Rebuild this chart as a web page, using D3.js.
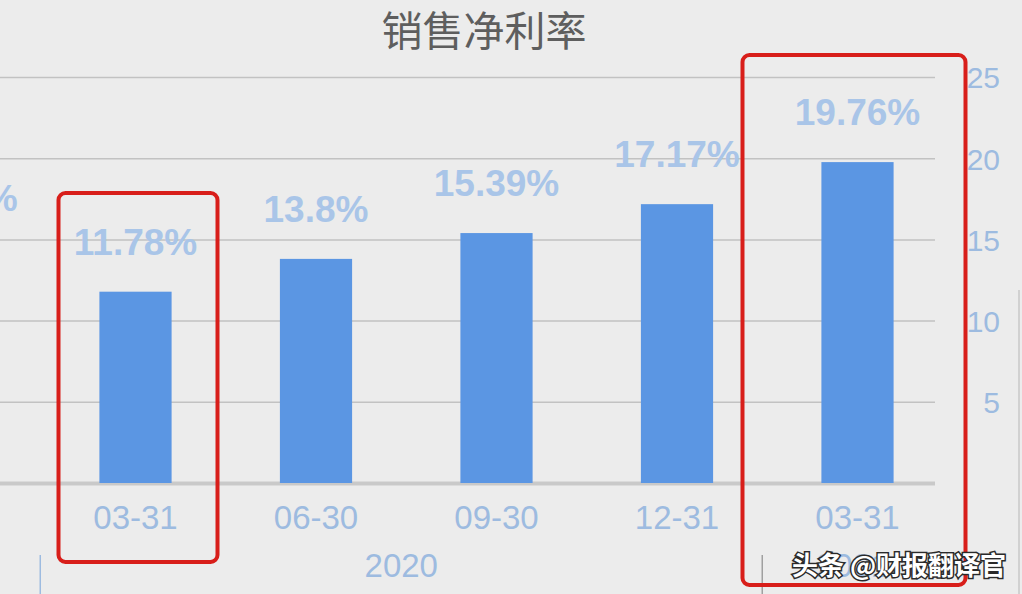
<!DOCTYPE html>
<html><head><meta charset="utf-8">
<script src="https://cdn.jsdelivr.net/npm/d3@7"></script>
<style>html,body{margin:0;padding:0;background:#ececec;overflow:hidden}</style>
</head><body>
<svg id="c" width="1022" height="594"></svg>
<script>
const title = "销售净利率";
const categories = ["12-31", "03-31", "06-30", "09-30", "12-31", "03-31"];
const years = ["2019", "2020", "2020", "2020", "2020", "2021"];
const values = [14.44, 11.78, 13.8, 15.39, 17.17, 19.76];
const valueLabels = ["14.44%", "11.78%", "13.8%", "15.39%", "17.17%", "19.76%"];
const yTicks = [0, 5, 10, 15, 20, 25];
const highlighted = [1, 5];
const watermark = "头条 @财报翻译官";

const svg = d3.select("#c");
const W = 1022, H = 594;
svg.append("rect").attr("width", W).attr("height", H).attr("fill", "#ececec");

const idx = d3.range(categories.length);
const x = d3.scalePoint().domain(idx).range([-45, 857.5]);
const step = x.step();
const bw = step * 0.4;
const y = d3.scaleLinear().domain([0, 25]).range([483, 77]);
const plotL = 0, plotR = 935;
const visibleIdx = idx.filter(i => x(i) > 0);

// gridlines
const yAxis = d3.axisRight(y).tickValues(yTicks).tickSize(plotR - plotL).tickFormat(d => d === 0 ? "" : d);
const ga = svg.append("g").attr("transform", `translate(${plotL},0)`).call(yAxis);
ga.select(".domain").remove();
ga.selectAll(".tick line").attr("stroke", d => d === 0 ? "#c9c9c9" : "#c2c2c2")
  .attr("stroke-width", d => d === 0 ? 4 : 1.5);
ga.selectAll(".tick text").attr("x", 1000 - plotL).attr("text-anchor", "end")
  .attr("fill", "#9dbbe0").attr("font-family", "Liberation Sans, sans-serif")
  .attr("font-size", 30).attr("dy", "0.36em");

// bars
svg.append("g").selectAll("rect").data(idx).join("rect")
  .attr("x", i => x(i) - bw / 2).attr("width", bw)
  .attr("y", i => y(values[i])).attr("height", i => y(0) - y(values[i]))
  .attr("fill", "#5b96e3");

// value labels
svg.append("g").selectAll("text").data(idx).join("text")
  .attr("x", i => x(i)).attr("y", i => y(values[i]) - 37)
  .attr("text-anchor", "middle").attr("fill", "#a9c5e8")
  .attr("font-family", "Liberation Sans, sans-serif").attr("font-weight", "bold")
  .attr("font-size", 37).text(i => valueLabels[i]);

// category labels
svg.append("g").selectAll("text").data(visibleIdx).join("text")
  .attr("x", i => x(i)).attr("y", 529).attr("text-anchor", "middle")
  .attr("fill", "#9dbbe0").attr("font-family", "Liberation Sans, sans-serif")
  .attr("font-size", 33).text(i => categories[i]);

// year groups
const groups = [];
years.forEach((yr, i) => {
  if (!groups.length || groups[groups.length - 1].yr !== yr) groups.push({ yr, s: i, e: i });
  else groups[groups.length - 1].e = i;
});
groups.forEach(g => {
  g.l = g.s === 0 ? x(g.s) - step / 2 - 5 : (x(g.s - 1) + x(g.s)) / 2 - 5;
  g.r = g.e === idx.length - 1 ? x(g.e) + step / 2 - 5 : (x(g.e) + x(g.e + 1)) / 2 - 5;
});
svg.append("g").selectAll("text").data(groups.filter(g => g.l > 0)).join("text")
  .attr("x", g => (g.l + g.r) / 2).attr("y", 577).attr("text-anchor", "middle")
  .attr("fill", "#9dbbe0").attr("font-family", "Liberation Sans, sans-serif")
  .attr("font-size", 33).text(g => g.yr);
svg.append("g").selectAll("line").data(groups.slice(1)).join("line")
  .attr("x1", g => g.l).attr("x2", g => g.l).attr("y1", 555).attr("y2", 594)
  .attr("stroke", (g, i) => i === 0 ? "#9dbbe0" : "#a0a0a0").attr("stroke-width", 1.5);

// right edge line
svg.append("line").attr("x1", 1019).attr("x2", 1019).attr("y1", 290).attr("y2", 594)
  .attr("stroke", "#c8c8c8").attr("stroke-width", 1.5);

// title
svg.append("text").attr("x", 484).attr("y", 46).attr("text-anchor", "middle")
  .attr("fill", "#5e5e5e").attr("font-family", "Noto Sans CJK SC, sans-serif")
  .attr("font-size", 41).text(title);

// highlight boxes
const boxes = [
  { i: highlighted[0], dl: -77, dr: 82, t: 193, b: 562 },
  { i: highlighted[1], dl: -115, dr: 108, t: 55, b: 585 }
];
svg.append("g").selectAll("rect").data(boxes).join("rect")
  .attr("x", d => x(d.i) + d.dl).attr("y", d => d.t)
  .attr("width", d => d.dr - d.dl).attr("height", d => d.b - d.t)
  .attr("rx", 7).attr("fill", "none").attr("stroke", "#d81e1a").attr("stroke-width", 4);

// watermark
const wm = svg.append("text").attr("x", 792).attr("y", 575)
  .attr("font-family", "Noto Sans CJK SC, sans-serif").attr("font-weight", "bold")
  .attr("font-size", 26).text(watermark);
wm.attr("fill", "#ffffff").attr("stroke", "#2a2a2a").attr("stroke-width", 3)
  .attr("paint-order", "stroke");
</script>
</body></html>
